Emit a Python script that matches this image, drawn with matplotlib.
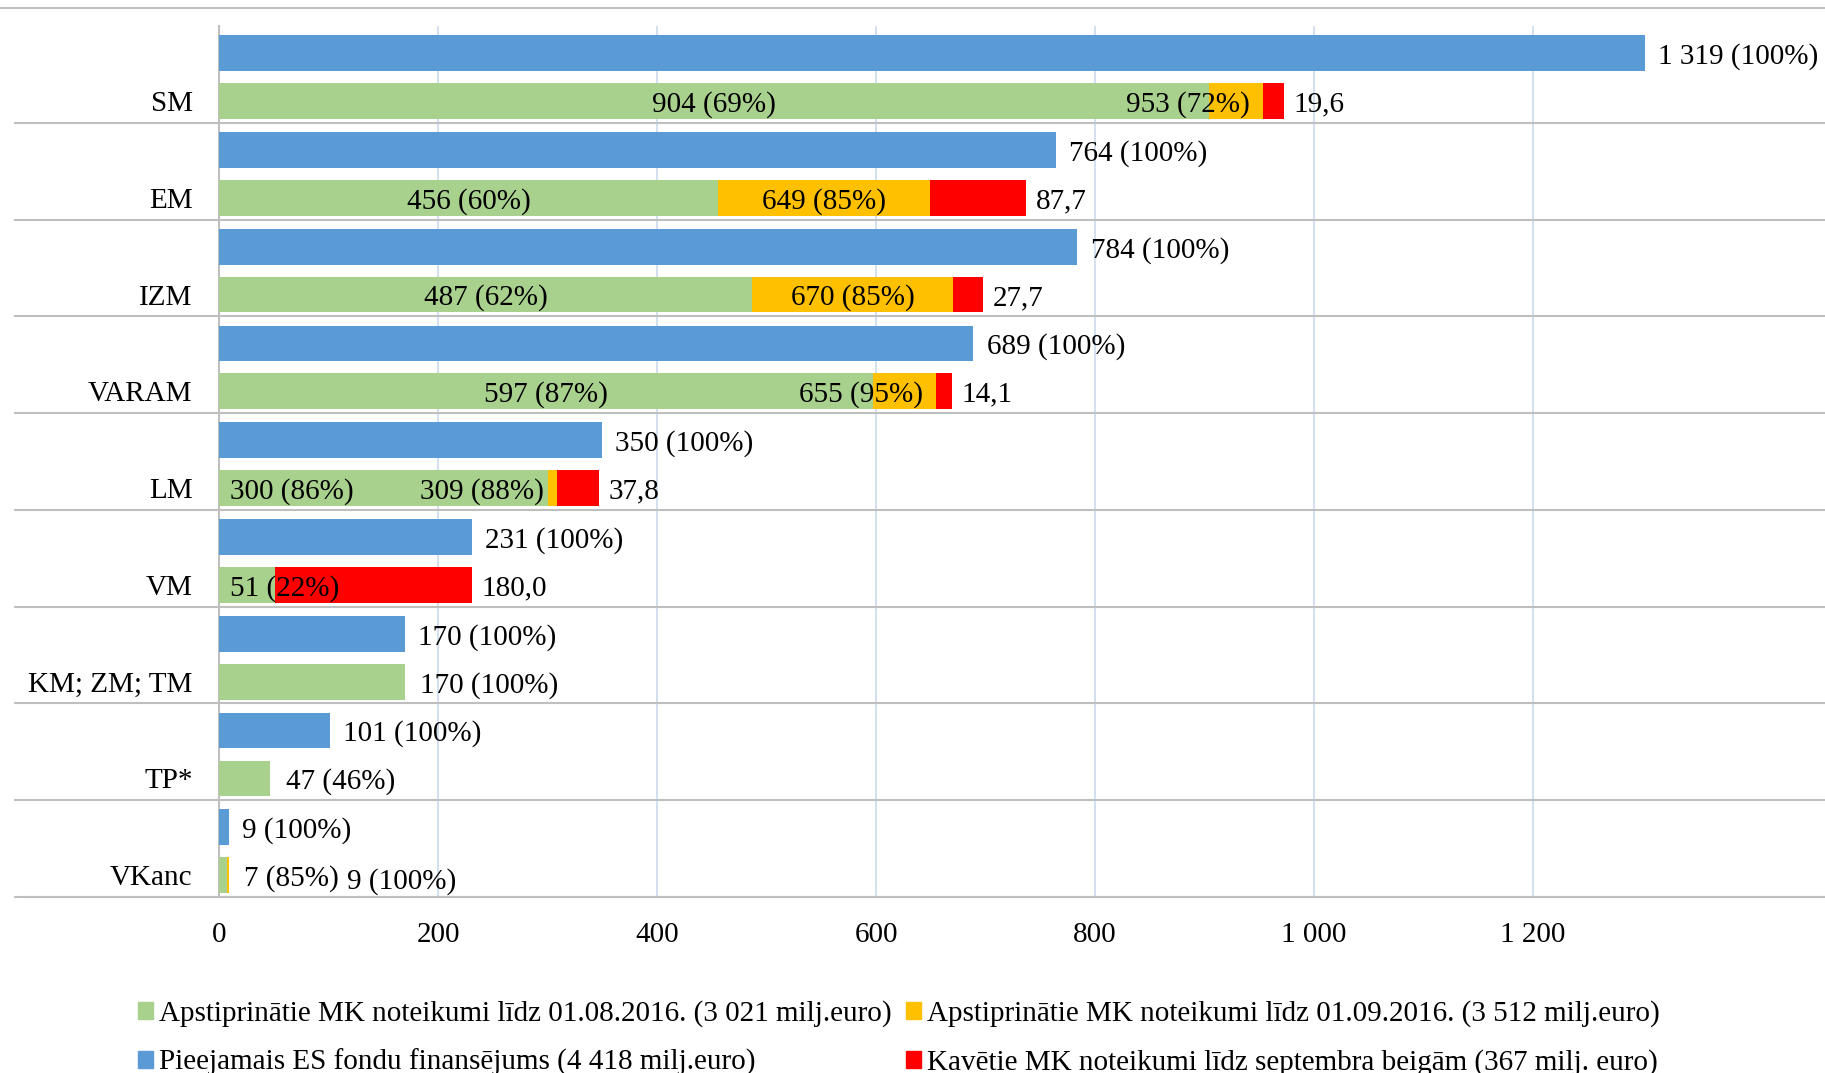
import matplotlib.pyplot as plt
from matplotlib.patches import Patch
from matplotlib.transforms import blended_transform_factory
import numpy as np

# -----------------------------
# Dati (milj. euro)
# -----------------------------
cats = ['SM', 'EM', 'IZM', 'VARAM', 'LM', 'VM', 'KM; ZM; TM', 'TP*', 'VKanc']
# stabiņu garums, kā attēlā (SM stabiņš ir īsāks par etiķeti)
available = [1302, 764, 784, 689, 350, 231, 170, 101, 9]
available_lbl = [1319, 764, 784, 689, 350, 231, 170, 101, 9]
approved_aug = [904, 456, 487, 597, 300, 51, 170, 47, 7]
approved_aug_pct = [69, 60, 62, 87, 86, 22, 100, 46, 85]
approved_sep = [953, 649, 670, 655, 309, 51, 170, 47, 9]
approved_sep_pct = [72, 85, 85, 95, 88, None, None, None, 100]
delayed = [19.6, 87.7, 27.7, 14.1, 37.8, 180.0, 0, 0, 0]

legend_labels = [
    'Apstiprinātie MK noteikumi līdz 01.08.2016. (3 021 milj.euro)',
    'Pieejamais ES fondu finansējums (4 418 milj.euro)',
    'Apstiprinātie MK noteikumi līdz 01.09.2016. (3 512 milj.euro)',
    'Kavētie MK noteikumi līdz septembra beigām (367 milj. euro)',
]

# kur likt zaļās / dzeltenās etiķetes
green_pos = ['center', 'center', 'center', 'center', 'base', 'base', 'out', 'out', 'out']
yellow_pos = ['end', 'center', 'center', 'end', 'end', None, None, None, 'after']

BLUE = '#5B9BD5'
GREEN = '#A9D18E'
YELLOW = '#FFC000'
RED = '#FF0000'
GREY = '#BFBFBF'

plt.rcParams['font.family'] = ['Liberation Serif', 'DejaVu Serif']
plt.rcParams['font.size'] = 21


def fmt(v):
    return f'{v:,}'.replace(',', ' ')


W, H = 1825, 1073
fig = plt.figure(figsize=(W / 100, H / 100), dpi=100)
ax = fig.add_axes([219 / W, 1 - 897 / H, 1 - 219 / W, (897 - 26) / H])

y = np.arange(len(cats))
y_blue = y - 0.22
y_stack = y + 0.275
h = 0.37
dy = 0.035  # teksts nedaudz zemāk par stabiņa centru

aug = np.array(approved_aug, dtype=float)
sep = np.array(approved_sep, dtype=float)
red = np.array(delayed)

ax.barh(y_blue, available, height=h, color=BLUE, zorder=3)
ax.barh(y_stack, aug, height=h, color=GREEN, zorder=3)
ax.barh(y_stack, sep - aug, height=h, left=aug, color=YELLOW, zorder=3)
ax.barh(y_stack, red, height=h, left=sep, color=RED, zorder=3)

# -----------------------------
# Etiķetes
# -----------------------------
for i in range(len(cats)):
    ax.text(available[i] + 12, y_blue[i] + dy, f'{fmt(available_lbl[i])} (100%)',
            va='center', ha='left', zorder=5)

    ys = y_stack[i] + dy
    gl = f'{approved_aug[i]} ({approved_aug_pct[i]}%)'
    if green_pos[i] == 'center':
        ax.text(aug[i] / 2, ys, gl, va='center', ha='center', zorder=5)
    elif green_pos[i] == 'base':
        ax.text(10, ys, gl, va='center', ha='left', zorder=5)
    else:
        ax.text(sep[i] + 14, ys, gl, va='center', ha='left', zorder=5)

    if yellow_pos[i] is not None:
        yl = f'{approved_sep[i]} ({approved_sep_pct[i]}%)'
        if yellow_pos[i] == 'center':
            ax.text((aug[i] + sep[i]) / 2, ys, yl, va='center', ha='center', zorder=5)
        elif yellow_pos[i] == 'end':
            ax.text(sep[i] - 12, ys, yl, va='center', ha='right', zorder=5)
        else:
            ax.text(sep[i] + 108, ys + 0.03, yl, va='center', ha='left', zorder=5)

    if red[i] > 0:
        ax.text(sep[i] + red[i] + 9, ys, f'{red[i]:.1f}'.replace('.', ','),
                va='center', ha='left', zorder=5)

# -----------------------------
# Asis
# -----------------------------
ax.set_xlim(0, (W - 219) / 1.095)
ax.set_ylim(len(cats) - 0.5, -0.5)
ax.set_xticks(range(0, 1201, 200))
ax.set_xticklabels([fmt(v) for v in range(0, 1201, 200)])
ax.set_yticks(y_stack)
ax.set_yticklabels(cats)
ax.tick_params(axis='both', length=0)
ax.tick_params(axis='y', pad=19)
ax.tick_params(axis='x', pad=18)
ax.set_axisbelow(True)
ax.xaxis.grid(True, color='#C9DAEE', lw=1.2)
for s in ['top', 'right', 'bottom']:
    ax.spines[s].set_visible(False)
ax.spines['left'].set_color(GREY)
ax.spines['left'].set_linewidth(1.5)

# atdalītājlīnijas starp kategorijām
tr = blended_transform_factory(fig.transFigure, ax.transData)
for b in np.arange(0.5, len(cats), 1):
    ax.plot([0.008, 1], [b, b], color=GREY, lw=1.5, transform=tr, clip_on=False, zorder=2)
ax.plot([0.013, 1], [len(cats) - 0.5] * 2, color=GREY, lw=1.5, transform=tr, clip_on=False, zorder=2)
fig.lines.append(plt.Line2D([0, 1], [1 - 8 / H] * 2, color=GREY, lw=1.5, transform=fig.transFigure))

handles = [Patch(color=GREEN), Patch(color=BLUE), Patch(color=YELLOW), Patch(color=RED)]
fig.legend(handles, legend_labels, ncol=2, loc='upper left',
           bbox_to_anchor=(138 / W, 1 - 1000 / H), frameon=False,
           handlelength=0.52, handleheight=0.52, handletextpad=0.2,
           columnspacing=0.5, labelspacing=0.76, borderpad=0, borderaxespad=0)

fig.savefig('out.png', dpi=100)
